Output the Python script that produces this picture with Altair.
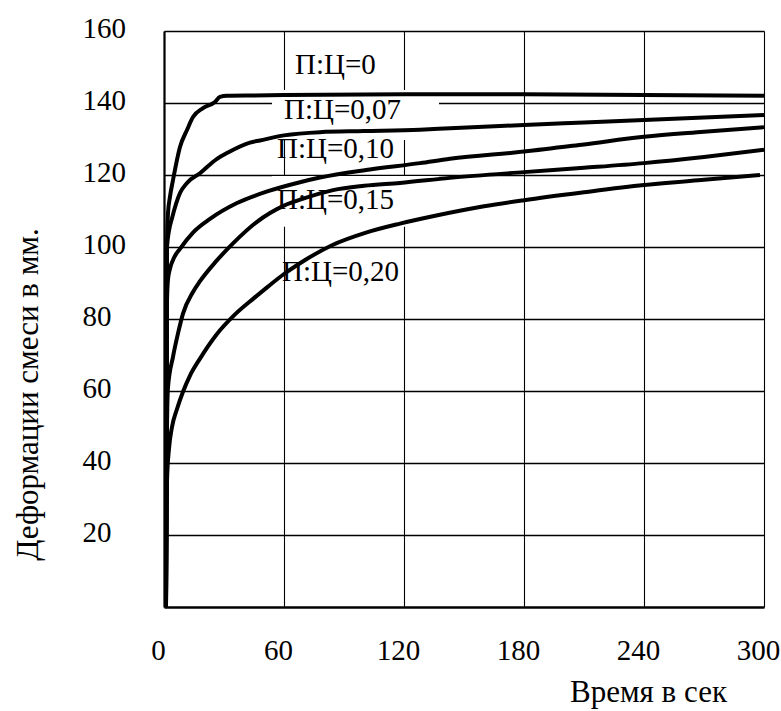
import altair as alt
import pandas as pd

# ---- data ----
x_ticks = [0, 60, 120, 180, 240, 300]
y_ticks = [20, 40, 60, 80, 100, 120, 140, 160]

series_names = ["П:Ц=0", "П:Ц=0,07", "П:Ц=0,10", "П:Ц=0,15", "П:Ц=0,20"]

t_000 = [1, 1.5, 2, 3, 4.5, 8, 11.5, 14.5, 19.5, 25.5, 28, 31.5, 45, 60, 120, 180, 240, 300]
d_000 = [0, 100, 109.4, 114, 118.6, 127.8, 132.5, 136.1, 138.6, 140.3, 141.7, 142, 142.1, 142.2, 142.4, 142.4, 142.2, 142]

t_007 = [1, 1.5, 2.5, 4, 8, 11.5, 18, 26.5, 31.5, 43, 48, 60, 78, 100, 128, 143, 180, 210, 240, 270, 300]
d_007 = [0, 100, 104.5, 108, 115, 117.8, 120.5, 124.5, 126.1, 129, 129.6, 131, 131.9, 132.2, 132.6, 133, 133.9, 134.6, 135.3, 136, 136.7]

t_010 = [1, 1.5, 2, 3, 5, 8, 14.5, 23, 36.5, 52, 68, 78, 101, 128, 143, 180, 210, 240, 270, 300]
d_010 = [0, 85, 91, 94, 97, 99.5, 104, 107.8, 112.2, 115.5, 118, 119.3, 121.4, 123.3, 124.5, 126.5, 128.5, 130.6, 132, 133.3]

t_015 = [1, 1.5, 2, 4.5, 7, 9.5, 14.5, 18, 26, 34.5, 46.5, 60, 70, 84.5, 100, 118, 143, 180, 210, 240, 270, 300]
d_015 = [0, 50, 61, 69.5, 76, 81.5, 87.5, 90.5, 96, 101, 107, 111.5, 113.5, 115.8, 117, 117.8, 119.2, 120.8, 122, 123.3, 125, 127]

t_020 = [1, 1.5, 2.5, 4, 6.5, 9.5, 13, 18, 26, 35, 45, 52, 60, 68, 84, 101, 118, 135, 160, 180, 210, 240, 270, 298]
d_020 = [0, 35, 44, 50, 55, 59.8, 64.3, 69, 75.5, 81, 85.8, 89, 92.5, 95.5, 100.5, 104, 106.5, 108.6, 111.3, 113, 115.2, 117.2, 118.7, 120]

# curve labels (left edge, vertical centre) in data units
label_x = [65.5, 60, 56.5, 56.5, 59]
label_y = [150.6, 138, 127.2, 113, 93]

# white label backgrounds that interrupt the grid, in data units
box_x1 = [54, 54]
box_x2 = [137.5, 137.5]
box_y1 = [129.7, 105.6]
box_y2 = [143.6, 119.7]

# ---- tables ----
rows = []
for name, ts, ds in zip(series_names,
                        [t_000, t_007, t_010, t_015, t_020],
                        [d_000, d_007, d_010, d_015, d_020]):
    for i, (t, d) in enumerate(zip(ts, ds)):
        rows.append({"series": name, "t": t, "d": d, "order": i})
curves = pd.DataFrame(rows)
labels = pd.DataFrame({"t": label_x, "d": label_y, "text": series_names})
boxes = pd.DataFrame({"t": box_x1, "t2": box_x2, "d": box_y1, "d2": box_y2})

FONT = "Liberation Serif, Times New Roman, Times, DejaVu Serif, serif"

xscale = alt.Scale(domain=[0, 300], nice=False, zero=False)
yscale = alt.Scale(domain=[0, 160], nice=False, zero=False)

xax = alt.Axis(values=x_ticks, title="Время в сек", grid=True, gridColor="black",
               gridWidth=1.1, gridOpacity=1, domainColor="black", domainWidth=2.5,
               ticks=False, tickSize=0, labelFont=FONT, labelFontSize=29,
               labelColor="black", labelPadding=43, labelBaseline="middle",
               labelOffset=-6, labelFlush=False, labelOverlap=False,
               titleFont=FONT, titleFontSize=31, titleFontWeight="normal",
               titleColor="black", titleX=484, titleY=85, titleAlign="center",
               titleBaseline="middle")
yax = alt.Axis(values=y_ticks, title="Деформации смеси в мм.", grid=True,
               gridColor="black", gridWidth=1.7, gridOpacity=1, domainColor="black",
               domainWidth=2.2, ticks=False, tickSize=0, labelFont=FONT,
               labelFontSize=29, labelColor="black", labelAlign="left",
               labelPadding=82, labelBaseline="middle", labelOffset=-3,
               labelFlush=False, labelOverlap=False, titleFont=FONT,
               titleFontSize=31, titleFontWeight="normal", titleColor="black",
               titleX=-136, titleY=363, titleAngle=270, titleAlign="center",
               titleBaseline="middle")

X = alt.X("t:Q", scale=xscale, axis=xax)
Y = alt.Y("d:Q", scale=yscale, axis=yax)

box_layer = alt.Chart(boxes).mark_rect(fill="white", stroke=None).encode(
    x=X, x2="t2:Q", y=Y, y2="d2:Q")

line_layer = alt.Chart(curves).mark_line(
    color="black", strokeWidth=4, interpolate="monotone").encode(
    x=X, y=Y, detail="series:N", order="order:Q")

text_layer = alt.Chart(labels).mark_text(
    align="left", baseline="middle", font=FONT, fontSize=29, color="black").encode(
    x=X, y=Y, text="text:N")

chart = alt.layer(box_layer, line_layer, text_layer).properties(
    width=600, height=576,
    autosize=alt.AutoSizeParams(type="none"),
    padding={"left": 164, "top": 31, "right": 17, "bottom": 104},
    background="white",
).configure_view(stroke=None).configure(font=FONT)

chart.save("out.html", embed_options={"renderer": "svg", "actions": False})
